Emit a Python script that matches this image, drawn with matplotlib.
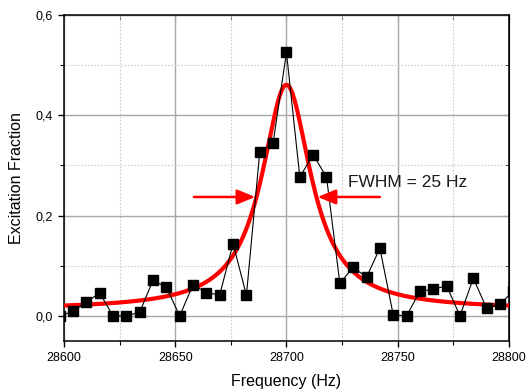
import numpy as np
import matplotlib
matplotlib.use("Agg")
import matplotlib.pyplot as plt
from matplotlib.ticker import MultipleLocator

plt.rcParams['font.family'] = ['Liberation Sans', 'DejaVu Sans']

# measured points (Hz, excitation fraction)
freq = [28598, 28604, 28610, 28616, 28622, 28628, 28634, 28640, 28646, 28652,
        28658, 28664, 28670, 28676, 28682, 28688, 28694, 28700, 28706, 28712,
        28718, 28724, 28730, 28736, 28742, 28748, 28754, 28760, 28766, 28772,
        28778, 28784, 28790, 28796, 28802]
frac = [0.000, 0.009, 0.027, 0.046, 0.000, 0.000, 0.007, 0.071, 0.057, 0.000,
        0.062, 0.046, 0.042, 0.144, 0.041, 0.327, 0.345, 0.525, 0.277, 0.321,
        0.277, 0.065, 0.097, 0.077, 0.135, 0.002, 0.000, 0.049, 0.053, 0.060,
        0.000, 0.075, 0.015, 0.023, 0.050]

# Lorentzian fit parameters
fit_x0 = 28700.0
fit_w = 27.0
fit_A = 0.448
fit_y0 = 0.0126

xticks = [28600, 28650, 28700, 28750, 28800]
yticks = [0.0, 0.2, 0.4, 0.6]
ytick_labels = ["0,0", "0,2", "0,4", "0,6"]

# FWHM arrows: (tail, tip) in data coords
arrow_left = ((28658.4, 0.237), (28686.0, 0.237))
arrow_right = ((28742.0, 0.237), (28714.0, 0.237))
note = "FWHM = 25 Hz"


def lorentz(x):
    hw = fit_w / 2.0
    return fit_y0 + fit_A * hw**2 / ((x - fit_x0)**2 + hw**2)


fig = plt.figure(figsize=(5.29, 3.91), dpi=100)
ax = fig.add_axes([0.121, 0.128, 0.841, 0.834])
ax.set_xlim(28600, 28800)
ax.set_ylim(-0.05, 0.6)

# grid
ax.set_xticks(xticks)
ax.set_yticks(yticks)
ax.set_yticklabels(ytick_labels)
ax.xaxis.set_minor_locator(MultipleLocator(25))
ax.yaxis.set_minor_locator(MultipleLocator(0.1))
ax.grid(which="major", color="#a8a8a8", lw=1.0, ls="-")
ax.grid(which="minor", color="#cccccc", lw=0.8, ls=(0, (1.5, 1.5)))
ax.set_axisbelow(True)

# fit curve
xs = np.linspace(28600, 28800, 401)
ax.plot(xs, lorentz(xs), color="#ff0000", lw=3.0, zorder=3)

# data
ax.plot(freq, frac, color="black", lw=0.8, marker="s", ms=6.8,
        mfc="black", mec="black", zorder=4)

for tail, tip in (arrow_left, arrow_right):
    ax.annotate("", xy=tip, xytext=tail,
                arrowprops=dict(arrowstyle="-|>,head_length=1.1,head_width=0.45",
                                color="#ff0000", lw=1.8, shrinkA=0, shrinkB=0),
                zorder=5)
ax.text(28727.5, 0.265, note, fontsize=12.5, ha="left", va="center",
        color="#1a1a1a")

for s in ax.spines.values():
    s.set_linewidth(1.1)
    s.set_color("black")

# left/bottom ticks point out
ax.tick_params(axis="both", which="both", labelsize=9, color="black",
               direction="out")
ax.tick_params(which="major", length=4.5, width=1.0)
ax.tick_params(which="minor", length=3.0, width=0.8)

# top/right ticks point in (Origin style)
sec_top = ax.secondary_xaxis("top")
sec_top.set_xticks(xticks)
sec_top.xaxis.set_minor_locator(MultipleLocator(25))
sec_top.tick_params(which="both", direction="in", labeltop=False)
sec_top.tick_params(which="major", length=4.5)
sec_top.tick_params(which="minor", length=3.0)
sec_right = ax.secondary_yaxis("right")
sec_right.set_yticks(yticks)
sec_right.yaxis.set_minor_locator(MultipleLocator(0.1))
sec_right.tick_params(which="both", direction="in", labelright=False)
sec_right.tick_params(which="major", length=4.5)
sec_right.tick_params(which="minor", length=3.0)

ax.set_xlabel("Frequency (Hz)", fontsize=11.5, labelpad=7)
ax.set_ylabel("Excitation Fraction", fontsize=11.5, labelpad=8)

fig.savefig("out.png", dpi=100)
